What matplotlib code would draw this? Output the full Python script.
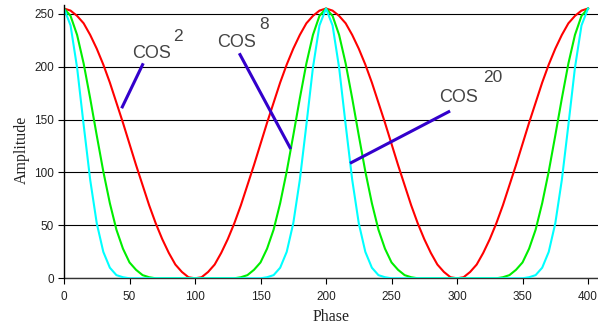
import matplotlib
matplotlib.use("Agg")
import matplotlib.pyplot as plt

# Phase sampled every 5 units from 0 to 400
phase = list(range(0, 405, 5))

cos2 = [255, 253, 248, 241, 230, 217, 202, 185, 166, 147, 127, 107, 88, 69, 52, 37, 24, 13, 6, 1, 0,
        1, 6, 13, 24, 37, 52, 69, 88, 107, 127, 147, 166, 185, 202, 217, 230, 241, 248, 253, 255,
        253, 248, 241, 230, 217, 202, 185, 166, 147, 127, 107, 88, 69, 52, 37, 24, 13, 6, 1, 0,
        1, 6, 13, 24, 37, 52, 69, 88, 107, 127, 147, 166, 185, 202, 217, 230, 241, 248, 253, 255]

cos8 = [255, 248, 230, 203, 170, 135, 101, 71, 46, 28, 15, 8, 3, 1, 0, 0, 0, 0, 0, 0, 0,
        0, 0, 0, 0, 0, 0, 1, 3, 8, 15, 28, 46, 71, 101, 135, 170, 203, 230, 248, 255,
        248, 230, 203, 170, 135, 101, 71, 46, 28, 15, 8, 3, 1, 0, 0, 0, 0, 0, 0, 0,
        0, 0, 0, 0, 0, 0, 1, 3, 8, 15, 28, 46, 71, 101, 135, 170, 203, 230, 248, 255]

cos20 = [255, 239, 199, 145, 93, 52, 25, 10, 3, 1, 0, 0, 0, 0, 0, 0, 0, 0, 0, 0, 0,
         0, 0, 0, 0, 0, 0, 0, 0, 0, 0, 1, 3, 10, 25, 52, 93, 145, 199, 239, 255,
         239, 199, 145, 93, 52, 25, 10, 3, 1, 0, 0, 0, 0, 0, 0, 0, 0, 0, 0, 0,
         0, 0, 0, 0, 0, 0, 0, 0, 0, 0, 1, 3, 10, 25, 52, 93, 145, 199, 239, 255]

x_ticks = [0, 50, 100, 150, 200, 250, 300, 350, 400]
y_ticks = [0, 50, 100, 150, 200, 250]

# annotations: (label, exponent, text pos, exponent pos, pointer line start, end)
annotations = [
    ("COS", "2", (51.7, 207.9), (83.2, 224.6), (60.5, 203.2), (44.0, 160.7)),
    ("COS", "8", (116.6, 218.9), (149.1, 235.3), (133.8, 212.7), (173.1, 122.2)),
    ("COS", "20", (286.5, 166.9), (319.6, 185.8), (294.7, 158.1), (218.3, 108.7)),
]

W, H = 598, 329
fig = plt.figure(figsize=(W / 100, H / 100), dpi=100)
left_px, right_px, top_px, bottom_px = 64, 598, 5, 278.3
ax = fig.add_axes([left_px / W, (H - bottom_px) / H, (right_px - left_px) / W, (bottom_px - top_px) / H])

ax.plot(phase, cos2, color="#ff0000", lw=1.5, zorder=3)
ax.plot(phase, cos8, color="#00ee00", lw=1.5, zorder=4)
ax.plot(phase, cos20, color="#00ffff", lw=1.5, zorder=5)

ax.set_xlim(0, 407.6)
ax.set_ylim(0, 258.3)
ax.set_xticks(x_ticks)
ax.set_yticks(y_ticks)

tick_font = dict(family="Liberation Sans", size=8.5)
ax.set_xticklabels([str(t) for t in x_ticks], **tick_font)
ax.set_yticklabels([str(t) for t in y_ticks], **tick_font)
ax.tick_params(axis="x", direction="out", length=4.3, width=0.8, color="black", pad=4.5, labelcolor="#222222")
ax.tick_params(axis="y", direction="out", length=4.3, width=0.8, color="black", pad=3, labelcolor="#222222")

ax.yaxis.grid(True, color="black", lw=0.8)
ax.xaxis.grid(False)
ax.set_axisbelow(True)

for s in ("top", "right"):
    ax.spines[s].set_visible(False)
ax.spines["left"].set_color("black")
ax.spines["left"].set_linewidth(1.0)
ax.spines["bottom"].set_color("#333333")
ax.spines["bottom"].set_linewidth(1.0)
ax.spines["left"].set_zorder(6)

ax.set_xlabel("Phase", family="Liberation Serif", size=11.5, color="#222222")
ax.set_ylabel("Amplitude", family="Liberation Serif", size=11.5, color="#222222")
ax.xaxis.set_label_coords(0.5, -0.141)
ax.xaxis.label.set_verticalalignment("center")
ax.yaxis.set_label_coords(-0.0796, 0.47)
ax.yaxis.label.set_verticalalignment("center")

for label, expo, tpos, epos, p0, p1 in annotations:
    ax.text(tpos[0], tpos[1], label, family="Liberation Sans", size=13, color="#444444",
            ha="left", va="baseline", zorder=7)
    ax.text(epos[0], epos[1], expo, family="Liberation Sans", size=12.5, color="#444444",
            ha="left", va="baseline", zorder=7)
    ax.plot([p0[0], p1[0]], [p0[1], p1[1]], color="#3300cc", lw=2.2, zorder=8,
            solid_capstyle="butt")

fig.savefig("out.png", dpi=100)
